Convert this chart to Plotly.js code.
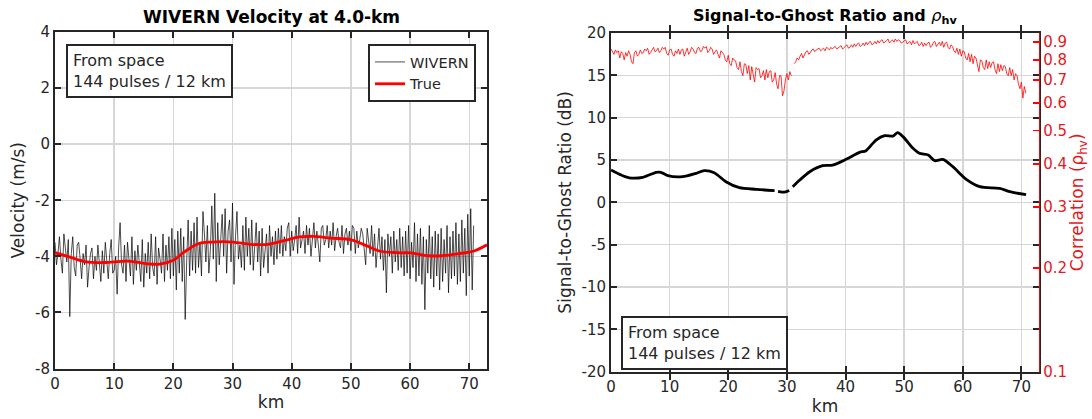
<!DOCTYPE html>
<html>
<head>
<meta charset="utf-8">
<script src="https://cdn.plot.ly/plotly-3.0.1.min.js"></script>
<style>html,body{margin:0;padding:0;background:#fff}#chart{width:1092px;height:419px}</style>
</head>
<body>
<div id="chart"></div>
<script>
// ---------- DATA ----------
const KM_STEP = 0.25; // sampling of the noisy series (km)

// Left panel: WIVERN noisy velocity (m/s), one value per 0.25 km from 0 km
const wivernVel = [
-3.5,-4.3,-3.9,-3.3, -4.1,-4.6,-3.2,-3.8, -4.2,-3.4,-6.15,-3.9, -3.3,-4.4,-4.7,-3.6,
-3.5,-4.1,-4.8,-3.9, -4.3,-3.6,-5.1,-4.4, -3.9,-3.7,-4.8,-4.0, -4.5,-3.6,-4.2,-4.9,
-3.8,-4.6,-3.5,-4.1, -4.8,-3.9,-3.4,-4.6, -4.5,-4.0,-5.35,-3.7, -2.8,-4.3,-4.6,-3.6,
-4.9,-3.5,-4.1,-4.7, -3.3,-5.0,-3.8,-4.5, -3.6,-4.2,-4.9,-3.4, -5.1,-3.9,-4.6,-3.5,
-4.8,-3.2,-4.4,-4.7, -3.3,-5.0,-3.7,-4.1, -4.6,-3.2,-4.9,-3.6, -4.5,-3.3,-4.8,-3.0,
-4.7,-3.4,-5.2,-3.1, -4.6,-3.0,-4.9,-3.3, -6.25,-4.2,-2.7,-4.7, -3.1,-4.5,-2.8,-4.6,
-2.6,-4.4,-3.5,-4.7, -2.4,-3.2,-4.2,-2.9, -4.6,-3.8,-2.2,-4.1, -1.75,-4.9,-2.8,-4.3,
-3.4,-2.5,-4.0,-2.3, -4.6,-3.1,-2.7,-4.2, -2.1,-5.0,-3.3,-2.4, -4.1,-3.6,-4.4,-2.9,
-4.5,-2.6,-4.0,-3.0, -4.3,-2.7,-4.5,-3.4, -2.8,-4.2,-3.1,-4.7, -3.0,-4.4,-3.6,-3.2,
-4.6,-2.9,-4.0,-3.3, -4.3,-3.1,-4.1,-3.0, -3.9,-2.9,-4.0,-3.3, -3.8,-3.0,-2.8,-4.0,
-3.1,-3.8,-3.4,-2.9, -3.9,-2.6,-3.7,-3.3, -3.1,-3.9,-2.9,-3.6, -3.0,-4.0,-3.4,-2.8,
-3.7,-3.1,-3.6,-4.2, -3.0,-2.9,-3.6,-3.4, -2.9,-3.7,-3.1,-3.6, -2.8,-3.8,-3.3,-3.0,
-3.5,-3.7,-2.9,-3.9, -3.2,-3.0,-3.6,-3.1, -3.8,-2.9,-3.0,-3.9, -3.1,-3.7,-3.4,-3.0,
-3.2,-3.8,-4.3,-3.0, -3.5,-3.9,-2.9,-4.0, -3.2,-4.4,-3.7,-3.0, -4.1,-3.3,-4.5,-3.4,
-5.3,-3.2,-4.0,-3.3, -4.6,-3.1,-4.2,-3.4, -4.5,-3.0,-4.4,-3.3, -4.7,-3.1,-4.6,-2.9,
-4.8,-3.5,-4.4,-2.8, -4.9,-3.2,-4.7,-3.0, -5.0,-3.3,-5.9,-3.4, -4.6,-2.9,-4.8,-3.3,
-5.1,-3.1,-4.7,-3.2, -5.2,-3.0,-4.9,-3.4, -4.6,-2.9,-5.3,-3.3, -4.8,-3.1,-4.7,-2.8,
-5.0,-3.2,-4.9,-2.7, -4.6,-3.0,-5.4,-2.5, -4.7,-2.3,-5.2,-2.9
];

// Left panel: true velocity (m/s)
const trueKm  = [0, 2.4, 5.3, 8.3, 12.4, 15.3, 17.7, 20, 21.8, 24.2, 26.5, 30.1, 33, 36, 38.9, 41.3, 43.6, 46.6, 50.1, 52.5, 54.8, 57.8, 60.1, 63.1, 65.4, 68.4, 70.8, 73];
const trueVel = [-3.87,-4.02,-4.2,-4.22,-4.17,-4.26,-4.28,-4.14,-3.85,-3.55,-3.49,-3.49,-3.57,-3.57,-3.43,-3.31,-3.29,-3.35,-3.41,-3.61,-3.81,-3.87,-3.88,-3.98,-3.98,-3.9,-3.81,-3.59];

// Right panel: signal-to-ghost ratio (dB); null = gap
const sgrKm  = [0, 1.5, 3.1, 5.4, 7.7, 8.5, 9.7, 12.2, 14.5, 15.9, 17.6, 19.6, 21.9, 24.8, 27.9, 28.2, 28.5, 29.6, 30.4, 30.7, 31.0, 32.2, 33.9, 36.1, 37.8, 40.1, 42.4, 43.5, 45.2, 46.7, 48.1, 48.9, 49.8, 51.5, 52.6, 54.1, 55.2, 56.6, 58.3, 60.6, 62.9, 66.3, 68.0, 70.8];
const sgrDb  = [3.82, 3.3, 2.9, 2.95, 3.54, 3.55, 3.15, 3.03, 3.43, 3.74, 3.5, 2.44, 1.73, 1.54, 1.38, null, 1.3, 1.2, 1.4, null, 1.85, 2.64, 3.62, 4.33, 4.4, 5.08, 5.9, 6.1, 7.36, 7.87, 7.83, 8.23, 7.76, 6.38, 5.79, 5.59, 4.92, 5.08, 4.21, 2.72, 1.85, 1.65, 1.26, 0.9];

// Right panel: correlation rho_hv, one value per 0.25 km from 0 km; null = gap
const rhoHv = [
0.86,0.845,0.83,0.855, 0.84,0.85,0.81,0.845, 0.835,0.80,0.84,0.82, 0.85,0.83,0.79,0.78,
0.84,0.85,0.82,0.83, 0.855,0.835,0.84,0.86, 0.85,0.865,0.83,0.84, 0.86,0.87,0.845,0.85,
0.865,0.84,0.85,0.87, 0.86,0.87,0.835,0.825, 0.855,0.86,0.83,0.82, 0.85,0.835,0.86,0.83,
0.855,0.86,0.82,0.84, 0.865,0.83,0.845,0.87, 0.86,0.84,0.835,0.865, 0.87,0.845,0.85,0.875,
0.865,0.875,0.84,0.85, 0.87,0.86,0.83,0.845, 0.855,0.83,0.81,0.85, 0.84,0.83,0.80,0.79,
0.825,0.78,0.77,0.81, 0.80,0.795,0.76,0.75, 0.79,0.74,0.72,0.78, 0.775,0.73,0.77,0.70,
0.765,0.72,0.69,0.76, 0.75,0.755,0.71,0.72, 0.745,0.70,0.75,0.71, 0.74,0.745,0.69,0.70,
0.735,0.68,0.66,0.72, 0.72,0.63,0.65,0.70, 0.73,0.70,0.74,0.72, null,0.78,0.79,0.81,
0.80,0.82,0.835,0.81, 0.83,0.845,0.85,0.83, 0.84,0.855,0.86,0.845, 0.855,0.86,0.865,0.85,
0.86,0.865,0.85,0.87, 0.865,0.855,0.87,0.86, 0.87,0.875,0.86,0.865, 0.875,0.88,0.86,0.87,
0.88,0.885,0.865,0.87, 0.885,0.87,0.89,0.875, 0.89,0.895,0.875,0.88, 0.895,0.88,0.90,0.885,
0.90,0.905,0.885,0.89, 0.905,0.89,0.91,0.895, 0.91,0.915,0.895,0.90, 0.91,0.92,0.895,0.905,
0.915,0.90,0.92,0.905, 0.915,0.91,0.895,0.90, 0.91,0.915,0.89,0.895, 0.905,0.885,0.91,0.89,
0.90,0.905,0.88,0.885, 0.90,0.875,0.895,0.88, 0.895,0.90,0.87,0.88, 0.90,0.905,0.875,0.885,
0.90,0.88,0.905,0.87, 0.895,0.90,0.87,0.86, 0.885,0.875,0.85,0.84, 0.865,0.83,0.86,0.82,
0.85,0.845,0.81,0.80, 0.835,0.79,0.83,0.78, 0.82,0.81,0.77,0.74, 0.80,0.795,0.76,0.75,
0.80,0.755,0.79,0.76, 0.785,0.79,0.75,0.73, 0.78,0.74,0.775,0.745, 0.77,0.765,0.73,0.72,
0.76,0.72,0.75,0.70, 0.73,0.72,0.68,0.66, 0.69,0.62,0.67,0.64
];

const xTicks   = [0, 10, 20, 30, 40, 50, 60, 70];
const velTicks = [-8, -6, -4, -2, 0, 2, 4];
const sgrTicks = [-20, -15, -10, -5, 0, 5, 10, 15, 20];
const rhoTicks = [0.1, 0.2, 0.3, 0.4, 0.5, 0.6, 0.7, 0.8, 0.9];

// ---------- CHART ----------
const wivernKm = wivernVel.map((_, i) => i * KM_STEP);
const rhoKm = rhoHv.map((_, i) => i * KM_STEP);

const FONT = '"DejaVu Sans", "Liberation Sans", sans-serif';
const INK = '#262626';
const GRID = '#d6d6d6';
const RED = '#ff0000';
const RED_TXT = '#e3191e';
const W = 1092, H = 419;

const traces = [
  {x: wivernKm, y: wivernVel, type: 'scatter', mode: 'lines', name: 'WIVERN',
   line: {color: '#000000', width: 0.7}, xaxis: 'x', yaxis: 'y'},
  {x: trueKm, y: trueVel, type: 'scatter', mode: 'lines', name: 'True',
   line: {color: RED, width: 2.8, shape: 'spline', smoothing: 1}, xaxis: 'x', yaxis: 'y'},
  {x: sgrKm, y: sgrDb, type: 'scatter', mode: 'lines', showlegend: false,
   connectgaps: false, line: {color: '#000000', width: 2.8, shape: 'spline', smoothing: 0.8},
   xaxis: 'x2', yaxis: 'y2'},
  {x: rhoKm, y: rhoHv, type: 'scatter', mode: 'lines', showlegend: false,
   connectgaps: false, line: {color: RED, width: 0.8}, xaxis: 'x2', yaxis: 'y3'}
];

const tickText = v => v.map(t => String(t));

const baseX = {
  range: [0, 73], tickvals: xTicks, ticktext: tickText(xTicks), ticks: 'inside', ticklen: 6, tickwidth: 2,
  tickcolor: INK, showline: true, linecolor: INK, linewidth: 2, mirror: 'allticks',
  showgrid: true, gridcolor: GRID, gridwidth: 1.5, zeroline: false,
  tickfont: {family: FONT, size: 15, color: INK},
  title: {text: 'km', font: {family: FONT, size: 17, color: INK}, standoff: 3}
};

const layout = {
  width: W, height: H,
  margin: {l: 0, r: 0, t: 0, b: 0},
  paper_bgcolor: '#ffffff', plot_bgcolor: '#ffffff',
  font: {family: FONT, color: INK},
  showlegend: true,
  legend: {
    x: 368 / W, y: 1 - 44 / H, xanchor: 'left', yanchor: 'top',
    bgcolor: '#ffffff', bordercolor: INK, borderwidth: 2,
    font: {family: FONT, size: 14.5, color: INK}, tracegroupgap: 0,
    itemwidth: 30
  },
  xaxis: Object.assign({}, baseX, {domain: [55 / W, 487 / W], anchor: 'y'}),
  yaxis: {
    domain: [(H - 368.5) / H, (H - 32) / H], anchor: 'x',
    range: [-8, 4], tickvals: velTicks, ticktext: tickText(velTicks), ticks: 'inside', ticklen: 6, tickwidth: 2,
    tickcolor: INK, showline: true, linecolor: INK, linewidth: 2, mirror: 'allticks',
    showgrid: true, gridcolor: GRID, gridwidth: 1.5, zeroline: false,
    tickfont: {family: FONT, size: 15, color: INK},
    title: {text: 'Velocity (m/s)', font: {family: FONT, size: 17, color: INK}, standoff: 6}
  },
  xaxis2: Object.assign({}, baseX, {domain: [611 / W, 1039 / W], anchor: 'y2'}),
  yaxis2: {
    domain: [(H - 371.7) / H, (H - 33) / H], anchor: 'x2',
    range: [-20, 20], tickvals: sgrTicks, ticktext: tickText(sgrTicks), ticks: 'inside', ticklen: 6, tickwidth: 2,
    tickcolor: INK, showline: true, linecolor: INK, linewidth: 2, mirror: 'allticks',
    showgrid: true, gridcolor: GRID, gridwidth: 1.5, zeroline: false,
    tickfont: {family: FONT, size: 15, color: INK},
    title: {text: 'Signal-to-Ghost Ratio (dB)', font: {family: FONT, size: 17, color: INK}, standoff: 6}
  },
  yaxis3: {
    overlaying: 'y2', side: 'right', anchor: 'x2', type: 'log',
    range: [-1, -0.019], tickvals: rhoTicks, ticktext: tickText(rhoTicks),
    ticks: 'inside', ticklen: 6, tickwidth: 1.5, tickcolor: RED,
    showline: true, linecolor: RED, linewidth: 1.2, showgrid: false, zeroline: false,
    tickfont: {family: FONT, size: 15, color: RED_TXT},
    title: {text: 'Correlation (ρ<sub>hv</sub>)', font: {family: FONT, size: 17, color: RED_TXT}, standoff: 4}
  },
  annotations: [
    {text: '<b>WIVERN Velocity at 4.0-km</b>', xref: 'paper', yref: 'paper',
     x: 271 / W, y: 1 - 17 / H, xanchor: 'center', yanchor: 'middle', showarrow: false,
     font: {family: FONT, size: 17, color: '#000000'}},
    {text: '<b>Signal-to-Ghost Ratio and </b><i>ρ</i><sub><b>hv</b></sub>', xref: 'paper', yref: 'paper',
     x: 825 / W, y: 1 - 16 / H, xanchor: 'center', yanchor: 'middle', showarrow: false,
     font: {family: FONT, size: 16, color: '#000000'}},
    {text: 'From space<br>144 pulses / 12 km', xref: 'paper', yref: 'paper',
     x: 66 / W, y: 1 - 44 / H, xanchor: 'left', yanchor: 'top', align: 'left', showarrow: false,
     bordercolor: INK, borderwidth: 2, borderpad: 5, bgcolor: '#ffffff',
     font: {family: FONT, size: 16, color: INK}},
    {text: 'From space<br>144 pulses / 12 km', xref: 'paper', yref: 'paper',
     x: 621 / W, y: 1 - 316 / H, xanchor: 'left', yanchor: 'top', align: 'left', showarrow: false,
     bordercolor: INK, borderwidth: 2, borderpad: 5, bgcolor: '#ffffff',
     font: {family: FONT, size: 16, color: INK}}
  ]
};

Plotly.newPlot('chart', traces, layout, {displayModeBar: false, staticPlot: true});
</script>
</body>
</html>
